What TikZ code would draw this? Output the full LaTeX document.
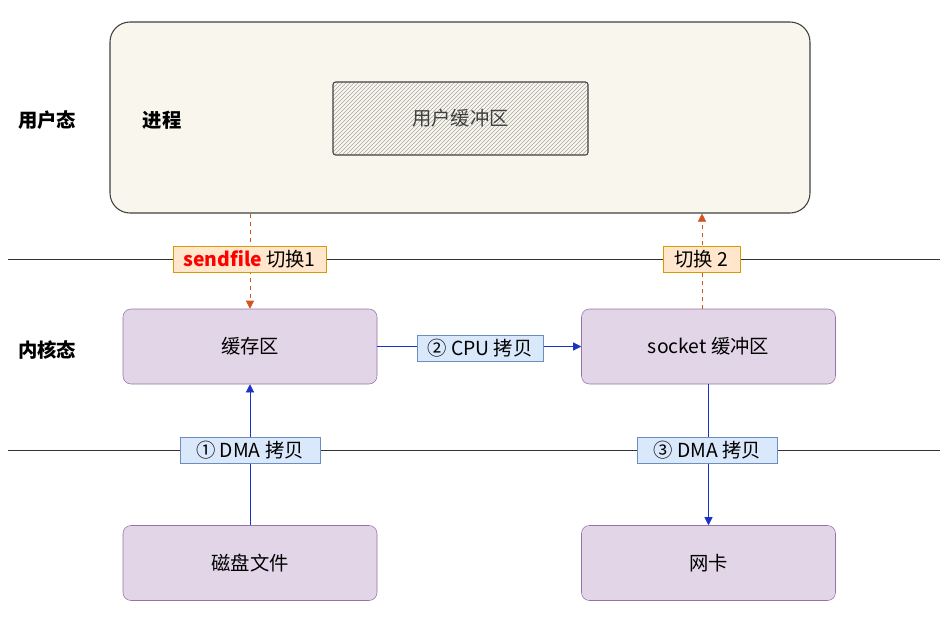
\documentclass[tikz,border=0pt]{standalone}
\usepackage{fontspec}
\setmainfont{Noto Sans CJK SC}
\usetikzlibrary{patterns,arrows.meta}

\definecolor{procfill}{HTML}{F9F7ED}
\definecolor{kfill}{HTML}{E1D5E7}
\definecolor{kdraw}{HTML}{9673A6}
\definecolor{swfill}{HTML}{FFE6CC}
\definecolor{swdraw}{HTML}{D79B00}
\definecolor{cpfill}{HTML}{DAE8FC}
\definecolor{cpdraw}{HTML}{6C8EBF}
\definecolor{swarrow}{HTML}{D2541E}
\definecolor{cparrow}{HTML}{1A32C8}

\tikzset{
    kbox/.style={draw=kdraw, fill=kfill, rounded corners=6pt, minimum width=190.5pt, minimum height=56.25pt},
    swlabel/.style={draw=swdraw, fill=swfill, minimum height=19.5pt, inner xsep=3pt, inner ysep=0pt},
    cplabel/.style={draw=cpdraw, fill=cpfill, minimum height=19.5pt, inner xsep=3pt, inner ysep=0pt},
    swarr/.style={swarrow, dashed, -{Triangle[width=6pt,length=6pt]}},
    cparr/.style={cparrow, -{Triangle[width=6pt,length=6pt]}},
}

\begin{document}
\begin{tikzpicture}[x=0.75pt, y=-0.75pt, font=\fontsize{14.5}{16}\selectfont]
            \useasboundingbox (0,0) rectangle (951,625);
            % user space
            \node (proc) [draw=black!75, fill=procfill, rounded corners=15pt, thick, minimum width=525pt, minimum height=143.25pt] at (460,117.5) {};
            \node (ubuf) [draw=black!75, thick, pattern=north east lines, pattern color=black!35, minimum width=191.25pt, minimum height=54.75pt, rounded corners=2pt] at (460.5,118.5) {};
            \node at (ubuf) {\color{black!75}用户缓冲区};
            \node (user) at (47,120) {\bfseries 用户态};
            \node (procname) at (162,120) {\bfseries 进程};
            % boundary lines
            \coordinate (l1a) at (8,259);
            \coordinate (l1b) at (940,259);
            \coordinate (l2a) at (8,450);
            \coordinate (l2b) at (940,450);
            \draw [black!80] (l1a) -- (l1b);
            \draw [black!80] (l2a) -- (l2b);
            % kernel space
            \node (kernel) at (47,350) {\bfseries 内核态};
            \node (cache) [kbox] at (250,346.5) {缓存区};
            \node (sock) [kbox] at (708.5,346.5) {socket 缓冲区};
            \node (disk) [kbox] at (250,563) {磁盘文件};
            \node (nic) [kbox] at (708.5,563) {网卡};
            % context switches
            \draw [swarr] (proc.south -| cache.north) -- (cache.north);
            \draw [swarr] (sock.north -| 702,0) -- (proc.south -| 702,0);
            \node (sw1) [swlabel, minimum width=115pt] at (249.5,259) {{\color{red}\bfseries sendfile} 切换1};
            \node (sw2) [swlabel, minimum width=58pt] at (701.5,259) {切换 2};
            % copies
            \draw [cparr] (disk.north) -- (cache.south);
            \draw [cparr] (cache.east) -- (sock.west);
            \draw [cparr] (sock.south -| nic.north) -- (nic.north);
            \node (dma1) [cplabel, minimum width=105pt] at (250,450) {① DMA 拷贝};
            \node (cpu) [cplabel, minimum width=94.5pt] at (480,348) {② CPU 拷贝};
            \node (dma2) [cplabel, minimum width=105pt] at (707.5,450) {③ DMA 拷贝};
        \end{tikzpicture}
\end{document}
